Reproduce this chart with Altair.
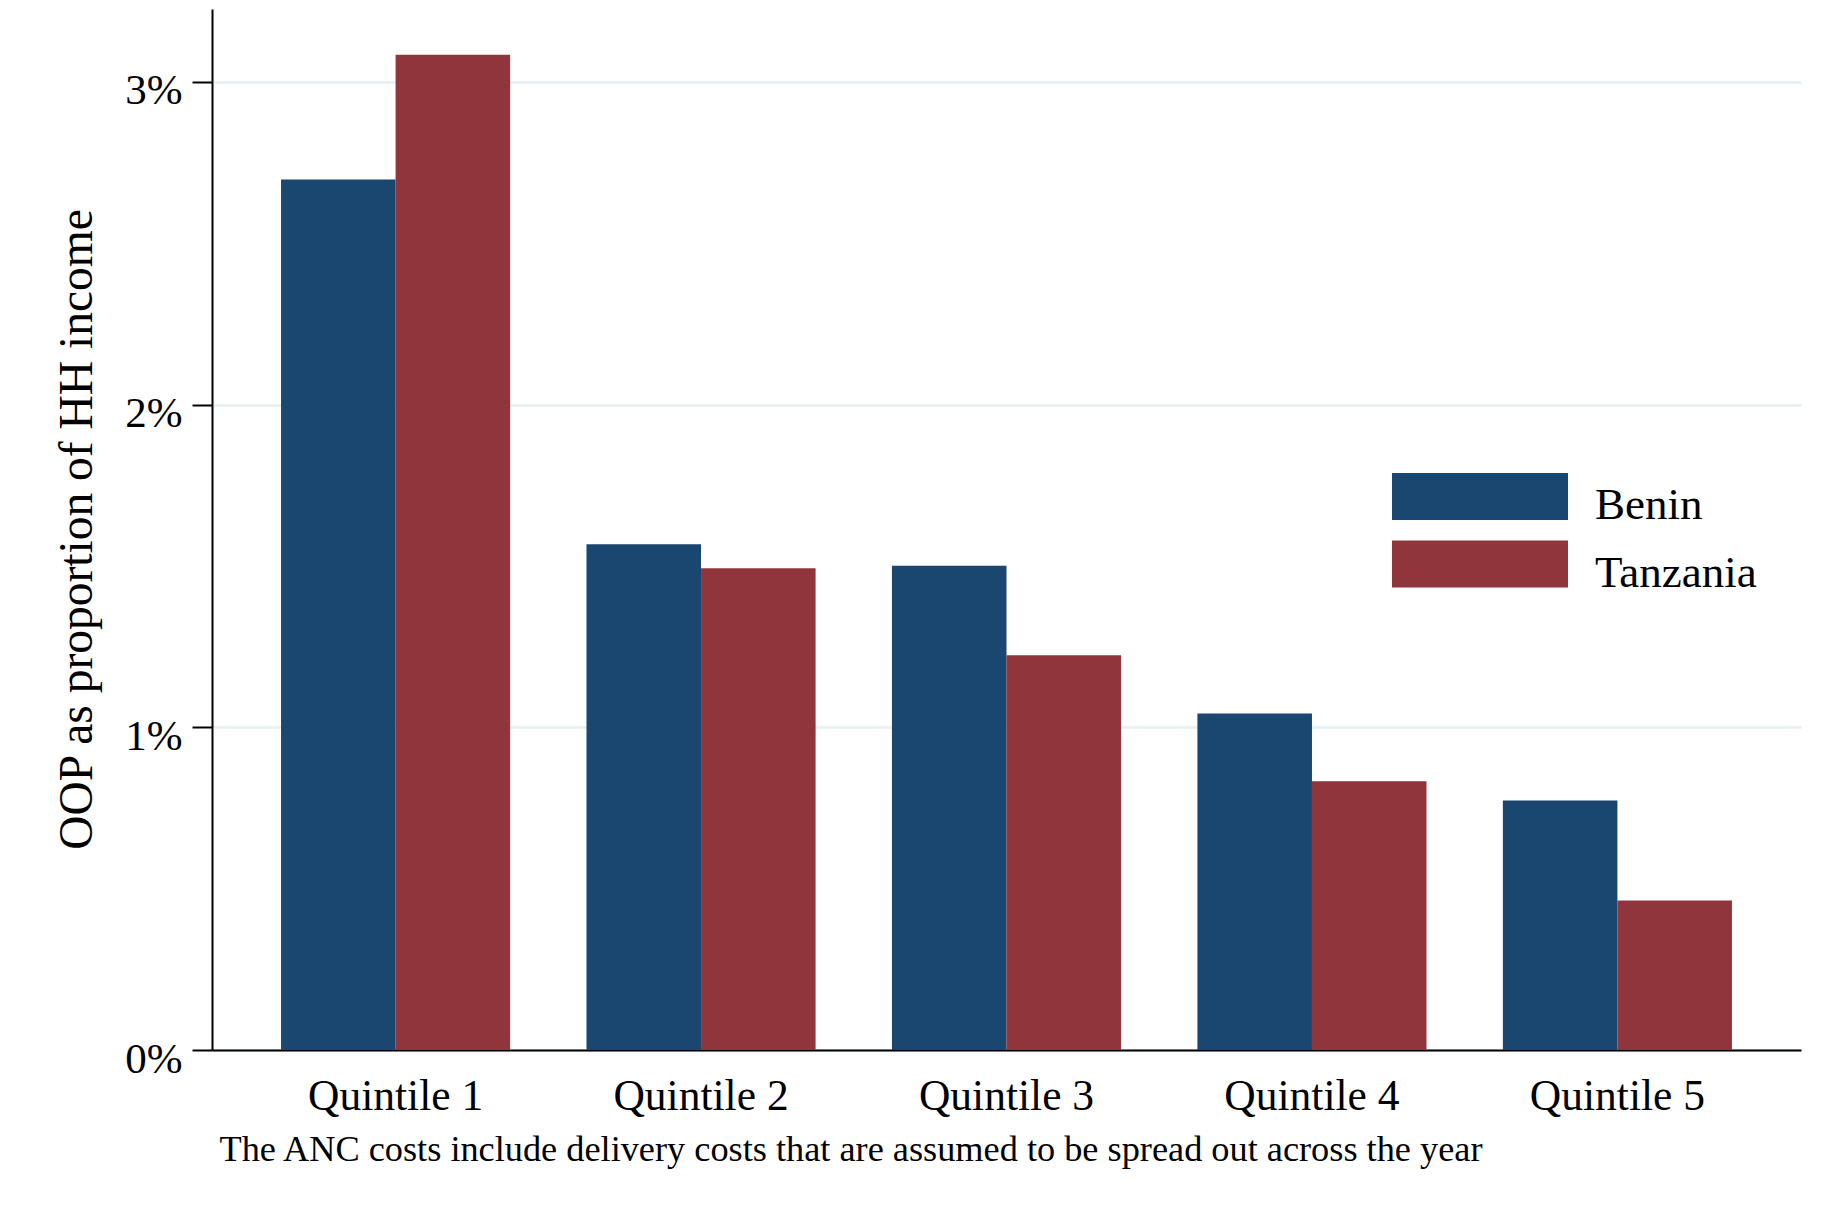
import altair as alt
import pandas as pd

quintiles = ["Quintile 1", "Quintile 2", "Quintile 3", "Quintile 4", "Quintile 5"]
countries = ["Benin", "Tanzania"]
benin = [2.698, 1.567, 1.501, 1.043, 0.773]
tanzania = [3.084, 1.493, 1.223, 0.833, 0.463]
y_ticks = [0, 1, 2, 3]
colors = ["#1a476f", "#90353b"]

rows = []
for q, b, t in zip(quintiles, benin, tanzania):
    rows.append({"quintile": q, "country": "Benin", "value": b})
    rows.append({"quintile": q, "country": "Tanzania", "value": t})
df = pd.DataFrame(rows)

FONT = "Liberation Serif"

chart = alt.Chart(df).mark_bar().encode(
    x=alt.X(
        "quintile:N",
        sort=quintiles,
        scale=alt.Scale(paddingInner=0.25, paddingOuter=0.226),
        axis=alt.Axis(
            title="The ANC costs include delivery costs that are assumed to be spread out across the year",
            titleFont=FONT,
            titleFontSize=36.3,
            titleFontWeight="normal",
            titleColor="black",
            titleAnchor="start",
            titleAlign="left",
            titleBaseline="alphabetic",
            titleX=7,
            titleY=110,
            titleLimit=1700,
            labelFont=FONT,
            labelFontSize=43.5,
            labelColor="black",
            labelAngle=0,
            labelBaseline="top",
            labelPadding=25,
            ticks=False,
            domainColor="black",
            domainWidth=2,
            grid=False,
        ),
    ),
    xOffset=alt.XOffset("country:N", sort=countries, scale=alt.Scale(paddingInner=0, paddingOuter=0)),
    y=alt.Y(
        "value:Q",
        scale=alt.Scale(domain=[0, 3.226], nice=False, zero=True),
        axis=alt.Axis(
            title="OOP as proportion of HH income",
            titleFont=FONT,
            titleFontSize=47.5,
            titleFontWeight="normal",
            titleColor="black",
            titleAngle=270,
            titleAlign="center",
            titleBaseline="alphabetic",
            titleX=-121,
            titleY=520,
            titleLimit=1000,
            values=y_ticks,
            labelExpr="datum.value + '%'",
            labelFont=FONT,
            labelFontSize=43,
            labelColor="black",
            labelBaseline="middle",
            labelOffset=9,
            labelPadding=10,
            tickSize=20,
            tickWidth=2,
            tickColor="black",
            domainColor="black",
            domainWidth=2,
            grid=True,
            gridColor="#e6eff1",
            gridWidth=2.5,
        ),
    ),
    color=alt.Color(
        "country:N",
        scale=alt.Scale(domain=countries, range=colors),
        legend=alt.Legend(
            title=None,
            orient="none",
            legendX=1244.5,
            legendY=472.5,
            padding=0,
            symbolType="M-3.745,-1.362L3.745,-1.362L3.745,0.638L-3.745,0.638Z",
            symbolSize=2209,
            symbolStrokeWidth=0,
            symbolOpacity=1,
            labelFont=FONT,
            labelFontSize=45,
            labelColor="black",
            labelOffset=91.5,
            labelLimit=400,
            rowPadding=11.5,
        ),
    ),
).properties(
    width=1589,
    height=1041,
    autosize=alt.AutoSizeParams(type="none"),
    padding={"left": 204, "top": 1, "right": 37, "bottom": 160},
).configure(background="white").configure_view(stroke=None)

chart.save("out.html", embed_options={"renderer": "svg", "actions": False})
